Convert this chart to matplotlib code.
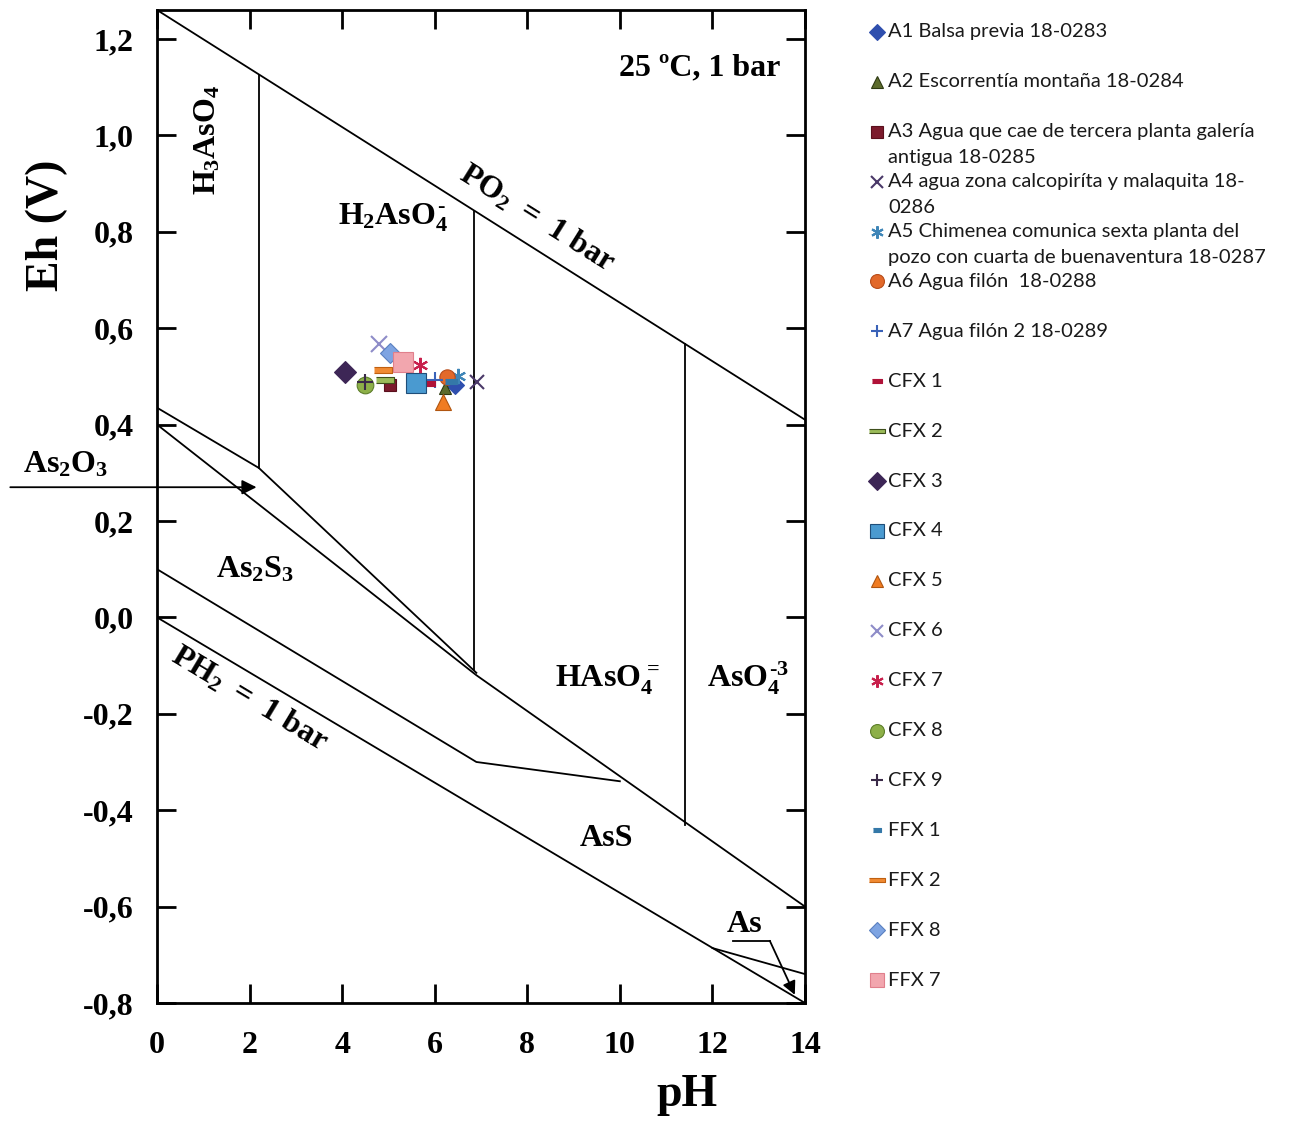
import numpy as np
import matplotlib
matplotlib.use("Agg")
import matplotlib.pyplot as plt
from matplotlib.ticker import FuncFormatter

plt.rcParams['font.family'] = 'Liberation Serif'
plt.rcParams['font.weight'] = 'bold'
plt.rcParams['mathtext.fontset'] = 'custom'
plt.rcParams['mathtext.rm'] = 'Liberation Serif:bold'
plt.rcParams['mathtext.it'] = 'Liberation Serif:bold'
plt.rcParams['mathtext.bf'] = 'Liberation Serif:bold'

# stability field boundaries (pH, Eh)
po2_ph = [0, 14]
po2_eh = [1.26, 0.41]
ph2_ph = [0, 14]
ph2_eh = [0.0, -0.80]
h3aso4_ph = [2.2, 2.2]
h3aso4_eh = [1.126, 0.31]
h2aso4_ph = [6.85, 6.85]
h2aso4_eh = [0.844, -0.11]
haso4_ph = [11.4, 11.4]
haso4_eh = [0.568, -0.43]
as2o3_ph = [0, 2.2, 6.9]
as2o3_eh = [0.435, 0.31, -0.115]
as2s3_ph = [0, 6.9, 14]
as2s3_eh = [0.40, -0.12, -0.60]
ass_ph = [0, 6.9, 10.0]
ass_eh = [0.10, -0.30, -0.34]
as_ph = [12.0, 14]
as_eh = [-0.686, -0.74]

# samples
names = ["A1 Balsa previa 18-0283", "A2 Escorrentía montaña 18-0284",
         "A3 Agua que cae de tercera planta galería\nantigua 18-0285",
         "A4 agua zona calcopiríta y malaquita 18-\n0286",
         "A5 Chimenea comunica sexta planta del\npozo con cuarta de buenaventura 18-0287",
         "A6 Agua filón  18-0288", "A7 Agua filón 2 18-0289",
         "CFX 1", "CFX 2", "CFX 3", "CFX 4", "CFX 5", "CFX 6", "CFX 7", "CFX 8", "CFX 9",
         "FFX 1", "FFX 2", "FFX 8", "FFX 7"]
sample_ph = [6.44, 6.22, 5.03, 6.91, 6.50, 6.26, 6.00,
             5.88, 4.93, 4.06, 5.60, 6.18, 4.80, 5.68, 4.49, 4.49,
             6.35, 4.88, 5.03, 5.31]
sample_eh = [0.482, 0.476, 0.482, 0.488, 0.500, 0.499, 0.492,
             0.486, 0.492, 0.509, 0.486, 0.447, 0.567, 0.523, 0.482, 0.488,
             0.490, 0.513, 0.548, 0.530]

short_dash = [(-1, -0.45), (1, -0.45), (1, 0.45), (-1, 0.45)]
long_dash = [(-1, -0.3), (1, -0.3), (1, 0.3), (-1, 0.3)]
markers = ['D', '^', 's', 'x', (6, 2, 0), 'o', '+',
           short_dash, long_dash, 'D', 's', '^', 'x', (6, 2, 0), 'o', '+',
           short_dash, long_dash, 'D', 's']
face_colors = ['#2f4fae', '#5c6b2c', '#7b1a2c', '#4a3868', '#3f86b8', '#e2692a', '#3a62b8',
               '#b01238', '#9bbb59', '#3d2656', '#4a9ad0', '#f07c22', '#8e8cc8', '#c8204c', '#8db048', '#3a2a48',
               '#3478a8', '#f08a32', '#7ea4e2', '#f2a6ae']
edge_colors = ['#2f4fae', '#2e3a12', '#5a0f1c', '#4a3868', '#3f86b8', '#b84d1a', '#3a62b8',
               '#b01238', '#3f4f1c', '#3d2656', '#1f4e79', '#b05510', '#8e8cc8', '#c8204c', '#5d7e2a', '#3a2a48',
               '#3478a8', '#c06010', '#5a80c0', '#e0808c']
plot_sizes = [9, 9, 9, 10, 11, 11, 11, 8, 13, 11, 14, 11, 11, 11, 12, 12, 8, 13, 10, 14]
legend_sizes = [8, 9, 9, 9, 9, 10, 9, 7, 11, 9, 10, 9, 9, 9, 10, 9, 6, 11, 8, 10]


def edge_width(m):
    return 1.5 if m in ('x', '+') or isinstance(m, tuple) else 0.8


fig = plt.figure(figsize=(12.89, 11.23), dpi=100)
ax = fig.add_axes([157 / 1289, 1 - 1003 / 1123, 648 / 1289, 993 / 1123])

lw = 1.3
for xs, ys in [(po2_ph, po2_eh), (ph2_ph, ph2_eh), (h3aso4_ph, h3aso4_eh),
               (h2aso4_ph, h2aso4_eh), (haso4_ph, haso4_eh), (as2o3_ph, as2o3_eh),
               (as2s3_ph, as2s3_eh), (ass_ph, ass_eh), (as_ph, as_eh)]:
    ax.plot(xs, ys, color='black', lw=lw)

for i in range(len(names)):
    ax.plot(sample_ph[i], sample_eh[i], linestyle='none', marker=markers[i],
            markersize=plot_sizes[i], markerfacecolor=face_colors[i],
            markeredgecolor=edge_colors[i], markeredgewidth=edge_width(markers[i]))

ax.set_xlim(0, 14)
ax.set_ylim(-0.8, 1.26)
ax.set_xticks(np.arange(0, 15, 2))
ax.set_yticks(np.round(np.arange(-0.8, 1.21, 0.2), 1))
ax.yaxis.set_major_formatter(FuncFormatter(lambda v, p: f"{v:.1f}".replace('.', ',').replace('-0,0', '0,0')))
ax.tick_params(direction='in', length=14, width=2, top=True, right=True, labelsize=23)
ax.tick_params(axis='y', pad=17)
ax.tick_params(axis='x', pad=20)
for sp in ax.spines.values():
    sp.set_linewidth(2)

ax.text(-0.17, 0.783, 'Eh (V)', transform=ax.transAxes, rotation=90, fontsize=33,
        ha='center', va='center')
ax.text(0.818, -0.093, 'pH', transform=ax.transAxes, fontsize=33, ha='center', va='center')

fs = 23
ax.text(1.1, 0.99, r'$H_3AsO_4$', rotation=90, fontsize=fs, ha='center', va='center')
ax.text(5.1, 0.828, r'$H_2AsO_4^{\text{-}}$', fontsize=fs, ha='center', va='center')
ax.text(8.21, 0.828, r'$PO_2\ =\ 1\ bar$', rotation=-32, fontsize=fs, ha='center', va='center',
        rotation_mode='anchor')
ax.text(11.73, 1.14, '25 ºC, 1 bar', fontsize=fs, ha='center', va='center')
ax.text(-1.99, 0.316, r'$As_2O_3$', fontsize=fs, ha='center', va='center')
ax.text(2.12, 0.098, r'$As_2S_3$', fontsize=fs, ha='center', va='center')
ax.text(9.72, -0.13, r'$HAsO_4^=$', fontsize=fs, ha='center', va='center')
ax.text(12.77, -0.126, r'$AsO_4^{\text{-3}}$', fontsize=fs, ha='center', va='center')
ax.text(9.72, -0.458, 'AsS', fontsize=fs, ha='center', va='center')
ax.text(2.0, -0.17, r'$PH_2\ =\ 1\ bar$', rotation=-31, fontsize=fs, ha='center', va='center',
        rotation_mode='anchor')
ax.text(12.7, -0.638, 'As', fontsize=fs, ha='center', va='center')

ax.annotate('', xy=(2.15, 0.27), xytext=(-3.17, 0.27), annotation_clip=False,
            arrowprops=dict(arrowstyle='-|>', color='black', lw=1.3, mutation_scale=22,
                            shrinkA=0, shrinkB=0))
ax.plot([12.44, 13.24], [-0.671, -0.671], color='black', lw=1.3)
ax.annotate('', xy=(13.78, -0.783), xytext=(13.24, -0.671),
            arrowprops=dict(arrowstyle='-|>', color='black', lw=1.3, mutation_scale=20,
                            shrinkA=0, shrinkB=0))

# legend column
lax = fig.add_axes([860 / 1289, 1 - 1005 / 1123, 429 / 1289, 998 / 1123])
lax.set_xlim(0, 429)
lax.set_ylim(19.5, -0.5)
lax.axis('off')
for i, name in enumerate(names):
    lax.plot(17, i, linestyle='none', marker=markers[i], markersize=legend_sizes[i],
             markerfacecolor=face_colors[i], markeredgecolor=edge_colors[i],
             markeredgewidth=edge_width(markers[i]))
    for j, line in enumerate(name.split('\n')):
        lax.text(28, i + j * 0.52, line, fontsize=14.5, family='Lato', fontweight='normal',
                 ha='left', va='center', color='#1a1a1a')

fig.savefig('out.png', dpi=100)
